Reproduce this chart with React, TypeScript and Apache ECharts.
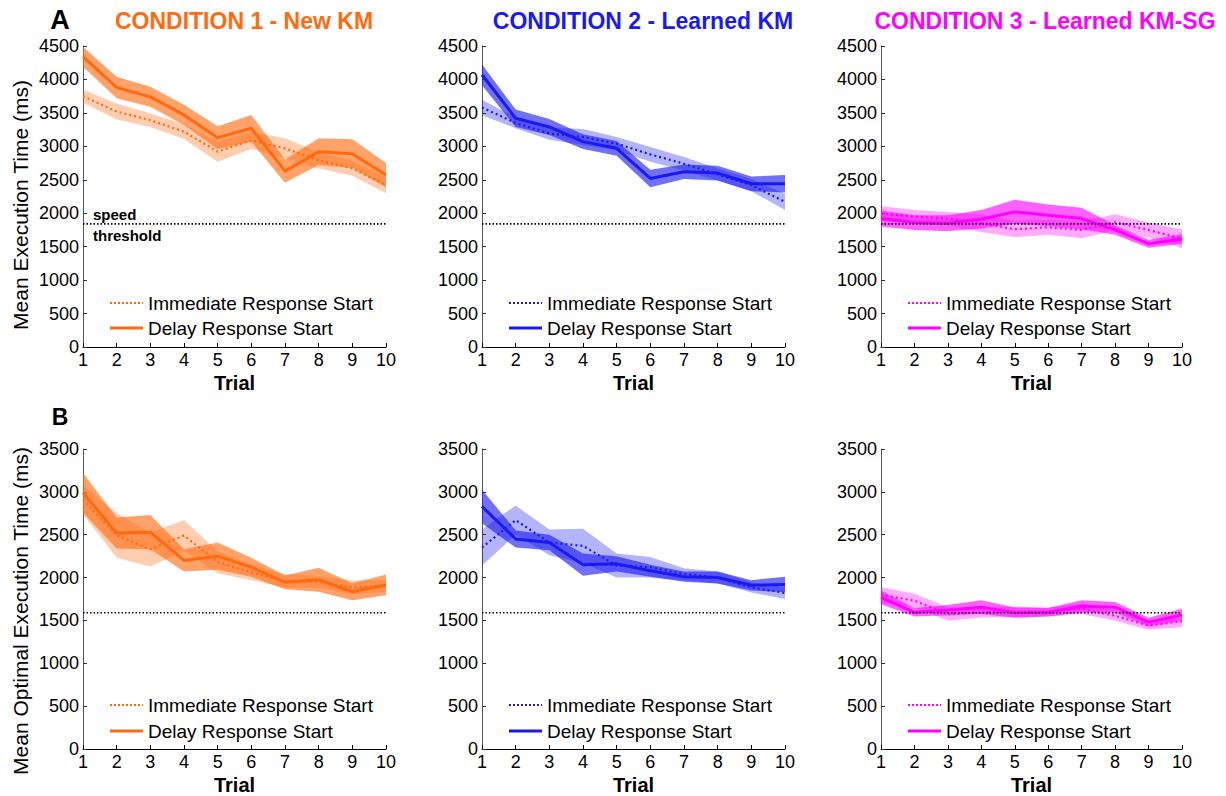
import React, { useEffect, useRef } from "react";
import * as echarts from "echarts";

const trials = [1, 2, 3, 4, 5, 6, 7, 8, 9, 10];
const xTickLabels = ["1", "2", "3", "4", "5", "6", "7", "8", "9", "10"];

const titles = ["CONDITION 1 - New KM", "CONDITION 2 - Learned KM", "CONDITION 3 - Learned KM-SG"];
const colors = ["#FF6A10", "#1A1AF0", "#FF00FF"];
const legendNames = ["Immediate Response Start", "Delay Response Start"];
const yNames = ["Mean Execution Time (ms)", "Mean Optimal Execution Time (ms)"];
const panelLetters = ["A", "B"];

const execThreshold = 1840;
const optThreshold = 1590;
const execMax = 4500;
const optMax = 3500;

// Row A: mean execution time
const c1ExecDelay = [4340, 3880, 3740, 3470, 3130, 3270, 2630, 2920, 2890, 2570];
const c1ExecDelaySE = [150, 160, 150, 150, 170, 200, 175, 200, 215, 180];
const c1ExecImm = [3750, 3520, 3390, 3220, 2920, 3090, 2970, 2790, 2670, 2420];
const c1ExecImmSE = [100, 120, 100, 110, 150, 130, 150, 120, 110, 120];

const c2ExecDelay = [4070, 3420, 3290, 3070, 2970, 2520, 2620, 2600, 2440, 2440];
const c2ExecDelaySE = [155, 130, 120, 110, 110, 130, 110, 110, 110, 130];
const c2ExecImm = [3580, 3350, 3190, 3140, 3040, 2880, 2740, 2580, 2420, 2170];
const c2ExecImmSE = [115, 80, 90, 120, 100, 110, 100, 90, 90, 120];

const c3ExecDelay = [1920, 1860, 1850, 1910, 2020, 1970, 1920, 1750, 1545, 1615];
const c3ExecDelaySE = [120, 110, 120, 140, 180, 160, 160, 70, 60, 70];
const c3ExecImm = [1995, 1950, 1920, 1850, 1760, 1790, 1750, 1865, 1750, 1620];
const c3ExecImmSE = [110, 100, 100, 130, 120, 110, 125, 120, 110, 140];

// Row B: mean optimal execution time
const c1OptDelay = [2990, 2520, 2530, 2200, 2250, 2120, 1945, 1975, 1835, 1915];
const c1OptDelaySE = [230, 180, 200, 130, 160, 110, 80, 140, 100, 120];
const c1OptImm = [2910, 2490, 2330, 2490, 2180, 2060, 1960, 1950, 1885, 1905];
const c1OptImmSE = [170, 260, 200, 180, 130, 90, 80, 70, 80, 70];

const c2OptDelay = [2830, 2450, 2410, 2150, 2160, 2080, 2010, 2000, 1910, 1920];
const c2OptDelaySE = [195, 100, 90, 130, 90, 70, 60, 70, 60, 90];
const c2OptImm = [2350, 2670, 2410, 2370, 2140, 2120, 2040, 2000, 1885, 1820];
const c2OptImmSE = [210, 170, 150, 200, 140, 120, 70, 70, 60, 70];

const c3OptDelay = [1770, 1595, 1620, 1655, 1590, 1595, 1665, 1655, 1480, 1565];
const c3OptDelaySE = [80, 50, 60, 80, 60, 50, 70, 60, 50, 70];
const c3OptImm = [1800, 1730, 1575, 1595, 1600, 1600, 1635, 1555, 1440, 1490];
const c3OptImmSE = [90, 80, 80, 60, 60, 50, 60, 60, 50, 70];

const FONT = "Liberation Sans, Arial, Helvetica, sans-serif";

function rgba(hex: string, a: number) {
  const n = parseInt(hex.slice(1), 16);
  return `rgba(${(n >> 16) & 255},${(n >> 8) & 255},${n & 255},${a})`;
}

export default function App() {
  const ref = useRef<HTMLDivElement>(null);

  useEffect(() => {
    if (!ref.current) return;
    const chart = echarts.init(ref.current, null, { renderer: "svg" });

    const colLefts = [83, 482, 881];
    const colWidths = [303, 303, 301];
    const rowTops = [46, 449];
    const gridH = 301;

    const rows = [
      {
        max: execMax,
        thr: execThreshold,
        data: [
          [c1ExecImm, c1ExecImmSE, c1ExecDelay, c1ExecDelaySE],
          [c2ExecImm, c2ExecImmSE, c2ExecDelay, c2ExecDelaySE],
          [c3ExecImm, c3ExecImmSE, c3ExecDelay, c3ExecDelaySE],
        ],
      },
      {
        max: optMax,
        thr: optThreshold,
        data: [
          [c1OptImm, c1OptImmSE, c1OptDelay, c1OptDelaySE],
          [c2OptImm, c2OptImmSE, c2OptDelay, c2OptDelaySE],
          [c3OptImm, c3OptImmSE, c3OptDelay, c3OptDelaySE],
        ],
      },
    ];

    const grids: any[] = [];
    const xAxes: any[] = [];
    const yAxes: any[] = [];
    const series: any[] = [];
    const graphics: any[] = [];

    const bandSeries = (gi: number, mean: number[], se: number[], fill: string) => ({
      type: "custom",
      xAxisIndex: gi,
      yAxisIndex: gi,
      silent: true,
      z: 1,
      data: trials.map((t, i) => [t, mean[i] - se[i], mean[i] + se[i]]),
      encode: { x: 0, y: [1, 2] },
      renderItem: (params: any, api: any) => {
        if (params.dataIndex !== 0) return null;
        const pts: number[][] = [];
        for (let i = 0; i < trials.length; i++) pts.push(api.coord([trials[i], mean[i] + se[i]]));
        for (let i = trials.length - 1; i >= 0; i--) pts.push(api.coord([trials[i], mean[i] - se[i]]));
        return { type: "polygon", shape: { points: pts }, style: { fill, stroke: "none" } };
      },
    });

    rows.forEach((row, r) => {
      row.data.forEach((d, c) => {
        const gi = r * 3 + c;
        const color = colors[c];
        const [imm, immSE, del, delSE] = d as number[][];
        grids.push({ left: colLefts[c], top: rowTops[r], width: colWidths[c], height: gridH, containLabel: false });
        xAxes.push({
          type: "value",
          gridIndex: gi,
          min: 1,
          max: 10,
          interval: 1,
          axisLine: { show: true, onZero: false, lineStyle: { color: "#000", width: 1 } },
          axisTick: { show: true, inside: true, length: 4, lineStyle: { color: "#000" } },
          axisLabel: {
            fontSize: 18,
            color: "#000",
            margin: 4,
            fontFamily: FONT,
            formatter: (v: number) => xTickLabels[Math.round(v) - 1] ?? "",
          },
          splitLine: { show: false },
          name: "Trial",
          nameLocation: "middle",
          nameGap: 26,
          nameTextStyle: { fontSize: 20, fontWeight: "bold", color: "#000", fontFamily: FONT },
        });
        yAxes.push({
          type: "value",
          gridIndex: gi,
          min: 0,
          max: row.max,
          interval: 500,
          axisLine: { show: true, onZero: false, lineStyle: { color: "#555", width: 1 } },
          axisTick: { show: true, inside: true, length: 4, lineStyle: { color: "#333" } },
          axisLabel: {
            fontSize: 18,
            color: "#000",
            margin: 4,
            fontFamily: FONT,
            formatter: (v: number) => String(Math.round(v)),
          },
          splitLine: { show: false },
        });

        series.push(bandSeries(gi, imm, immSE, rgba(color, 0.33)));
        series.push(bandSeries(gi, del, delSE, rgba(color, 0.62)));
        series.push({
          type: "line",
          name: legendNames[0],
          xAxisIndex: gi,
          yAxisIndex: gi,
          data: trials.map((t, i) => [t, imm[i]]),
          symbol: "none",
          z: 3,
          lineStyle: { color, width: 2.2, type: [2, 3] },
        });
        series.push({
          type: "line",
          name: legendNames[1],
          xAxisIndex: gi,
          yAxisIndex: gi,
          data: trials.map((t, i) => [t, del[i]]),
          symbol: "none",
          z: 4,
          lineStyle: { color, width: 3 },
        });
        series.push({
          type: "line",
          name: "threshold",
          xAxisIndex: gi,
          yAxisIndex: gi,
          data: [
            [trials[0], row.thr],
            [trials[trials.length - 1], row.thr],
          ],
          symbol: "none",
          z: 5,
          lineStyle: { color: "#000", width: 1.6, type: [1.5, 2] },
        });

        // legend
        const gl = colLefts[c];
        const ly = r === 0 ? [303, 328] : [705, 731];
        graphics.push({
          type: "line",
          shape: { x1: gl + 27, y1: ly[0], x2: gl + 60, y2: ly[0] },
          style: { stroke: color, lineWidth: 2, lineDash: [2, 2] },
        });
        graphics.push({
          type: "line",
          shape: { x1: gl + 27, y1: ly[1], x2: gl + 60, y2: ly[1] },
          style: { stroke: color, lineWidth: 3 },
        });
        legendNames.forEach((nm, k) => {
          graphics.push({
            type: "text",
            x: gl + 65,
            y: ly[k],
            style: { text: nm, fontSize: 19, fill: "#000", fontFamily: FONT, verticalAlign: "middle", align: "left" },
          });
        });
      });
    });

    // titles
    const titleCenters = [244, 643, 1045];
    titles.forEach((t, c) => {
      graphics.push({
        type: "text",
        x: titleCenters[c],
        y: 21,
        style: {
          text: t,
          fontSize: 23,
          fontWeight: "bold",
          fill: colors[c],
          fontFamily: FONT,
          align: "center",
          verticalAlign: "middle",
        },
      });
    });

    // panel letters
    graphics.push({
      type: "text",
      x: 60,
      y: 20,
      style: { text: panelLetters[0], fontSize: 27, fontWeight: "bold", fill: "#000", fontFamily: FONT, align: "center", verticalAlign: "middle" },
    });
    graphics.push({
      type: "text",
      x: 60,
      y: 417,
      style: { text: panelLetters[1], fontSize: 23, fontWeight: "bold", fill: "#000", fontFamily: FONT, align: "center", verticalAlign: "middle" },
    });

    // y axis names
    [205, 611].forEach((cy, r) => {
      graphics.push({
        type: "text",
        x: 20,
        y: cy,
        rotation: Math.PI / 2,
        style: { text: yNames[r], fontSize: 21, fill: "#000", fontFamily: FONT, align: "center", verticalAlign: "middle" },
      });
    });

    // speed threshold label
    graphics.push({
      type: "text",
      x: 93,
      y: 214,
      style: { text: "speed", fontSize: 15, fontWeight: "bold", fill: "#000", fontFamily: FONT, align: "left", verticalAlign: "middle" },
    });
    graphics.push({
      type: "text",
      x: 93,
      y: 235,
      style: { text: "threshold", fontSize: 15, fontWeight: "bold", fill: "#000", fontFamily: FONT, align: "left", verticalAlign: "middle" },
    });

    chart.setOption({
      animation: false,
      backgroundColor: "#fff",
      textStyle: { fontFamily: FONT },
      grid: grids,
      xAxis: xAxes,
      yAxis: yAxes,
      series,
      graphic: graphics,
    });

    return () => chart.dispose();
  }, []);

  return <div ref={ref} style={{ width: 1226, height: 796, position: "absolute", left: 0, top: 0 }} />;
}
